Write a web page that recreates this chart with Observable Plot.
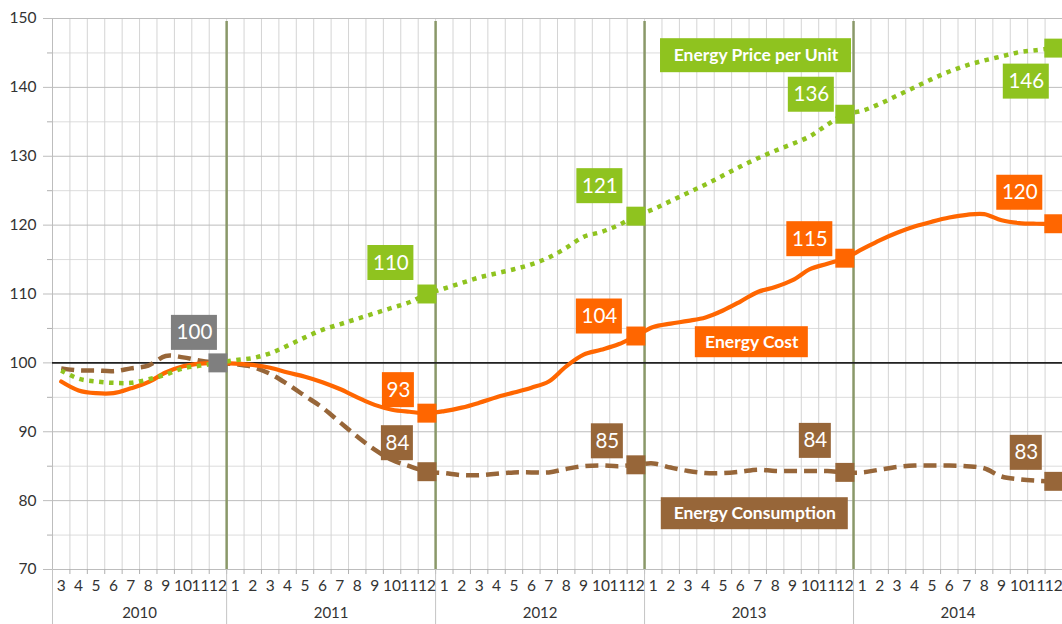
<!DOCTYPE html>
<html><head><meta charset="utf-8">
<script src="https://cdn.jsdelivr.net/npm/d3@7"></script>
<script src="https://cdn.jsdelivr.net/npm/@observablehq/plot@0.6"></script>
<style>html,body{margin:0;padding:0;background:#fff;overflow:hidden}</style>
</head><body><div id="chart"></div>
<script>
// ---- data ----
const years = ["2010", "2011", "2012", "2013", "2014"];
const monthLabels = [3,4,5,6,7,8,9,10,11,12,
  1,2,3,4,5,6,7,8,9,10,11,12,
  1,2,3,4,5,6,7,8,9,10,11,12,
  1,2,3,4,5,6,7,8,9,10,11,12,
  1,2,3,4,5,6,7,8,9,10,11,12];
const price = [98.9, 97.7, 97.3, 97.1, 97.1, 97.6, 98.3, 99.2, 99.6, 100,
  100.4, 100.7, 101.4, 102.5, 103.7, 104.8, 105.6, 106.4, 107.2, 108.0, 108.8, 110.0,
  110.8, 111.6, 112.4, 113.0, 113.6, 114.3, 115.3, 116.7, 118.3, 119.0, 120.0, 121.3,
  122.3, 123.5, 124.7, 125.9, 127.2, 128.5, 129.7, 130.8, 131.8, 132.9, 134.6, 136.1,
  136.6, 137.6, 138.8, 140.0, 141.2, 142.3, 143.2, 143.9, 144.5, 145.1, 145.4, 145.7];
const cost = [97.3, 96.0, 95.6, 95.6, 96.3, 97.2, 98.6, 99.5, 99.9, 100,
  99.9, 99.7, 99.3, 98.6, 98.0, 97.2, 96.2, 95.0, 93.9, 93.2, 92.9, 92.7,
  93.0, 93.5, 94.2, 95.0, 95.7, 96.4, 97.3, 99.5, 101.2, 101.9, 102.7, 103.9,
  105.2, 105.7, 106.1, 106.6, 107.6, 108.9, 110.3, 111.0, 112.0, 113.6, 114.4, 115.2,
  116.5, 117.8, 118.9, 119.8, 120.5, 121.1, 121.5, 121.6, 120.7, 120.3, 120.2, 120.2];
const consumption = [99.2, 98.9, 98.9, 98.8, 99.2, 99.6, 101.0, 100.8, 100.3, 100,
  99.8, 99.4, 98.4, 96.9, 95.2, 93.5, 91.4, 89.3, 87.4, 85.9, 85.0, 84.2,
  84.0, 83.7, 83.7, 83.9, 84.1, 84.1, 84.1, 84.6, 85.0, 85.1, 85.0, 85.2,
  85.4, 84.8, 84.3, 84.0, 84.0, 84.2, 84.5, 84.3, 84.3, 84.3, 84.3, 84.1,
  84.1, 84.5, 84.9, 85.1, 85.1, 85.1, 85.0, 84.7, 83.5, 83.1, 82.9, 82.8];
const seriesNames = ["Energy Price per Unit", "Energy Cost", "Energy Consumption"];
const labeledIdx = [21, 33, 45, 57];
const baseIdx = 9;
const yTicks = [70, 80, 90, 100, 110, 120, 130, 140, 150];
const yMinor = [75, 85, 95, 105, 115, 125, 135, 145];

// ---- styling / annotation layout (pixel offsets from markers) ----
const GREEN = "#8fc31f", ORANGE = "#ff6600", BROWN = "#976639", GRAY = "#7f7f7f", OLIVE = "#8a9869";
const FONT = "Lato, 'Open Sans', sans-serif";
const offsets = {
  price: [[-36, -31], [-36, -30], [-33.5, -19.5], [-27.5, 33.5]],
  cost: [[-28.5, -23], [-36.5, -19.5], [-35, -19], [-34, -31]],
  consumption: [[-29.5, -28.5], [-28.5, -23.5], [-29.5, -31.5], [-27.5, -28.5]]
};
const baseOffset = [-23.5, -30];
const nameBoxes = [
  {name: seriesNames[0], i: 39.9, v: 144.6, color: GREEN, w: 191, h: 34},
  {name: seriesNames[1], i: 39.66, v: 103.0, color: ORANGE, w: 113, h: 31},
  {name: seriesNames[2], i: 39.83, v: 78.1, color: BROWN, w: 187, h: 32}
];

// ---- derived ----
const n = monthLabels.length;
const idx = d3.range(n);
const boundaries = d3.range(-0.5, n, 1);
const yearStarts = idx.filter(i => i > 0 && monthLabels[i] === 1);
const yearBounds = yearStarts.map(i => i - 0.5);
const yearSpans = [0, ...yearStarts, n];
const yearCenters = years.map((y, k) => ({year: y, c: (yearSpans[k] + yearSpans[k + 1] - 1) / 2}));

const callouts = [];
const addSeries = (vals, color, offs) => labeledIdx.forEach((i, k) =>
  callouts.push({i, v: vals[i], text: String(Math.round(vals[i])), color, dx: offs[k][0], dy: offs[k][1]}));
addSeries(price, GREEN, offsets.price);
addSeries(cost, ORANGE, offsets.cost);
addSeries(consumption, BROWN, offsets.consumption);
callouts.push({i: baseIdx, v: cost[baseIdx], text: String(Math.round(cost[baseIdx])), color: GRAY, dx: baseOffset[0], dy: baseOffset[1]});

const marks = [
  Plot.ruleY(yMinor, {stroke: "#dcdcdc", strokeWidth: 1}),
  Plot.ruleX(boundaries, {y1: 150, y2: 70, stroke: "#d4d4d4", strokeWidth: 1}),
  Plot.ruleY(yMinor, {x1: -0.5, x2: -0.5, insetLeft: -5, stroke: "#b0b0b0"}),
  Plot.ruleY(yTicks, {insetLeft: -9, stroke: "#bdbdbd", strokeWidth: 1}),
  Plot.ruleX(boundaries, {y1: 70, y2: 70, insetBottom: -5, stroke: "#b0b0b0"}),
  Plot.ruleX([-0.5, ...yearBounds], {y1: 70, y2: 70, insetBottom: -56, stroke: "#c4c4c4"}),
  Plot.ruleX([-0.5], {y1: 150, y2: 70, stroke: "#bdbdbd"}),
  Plot.ruleX(yearBounds, {y1: 150, y2: 70, insetTop: 3, stroke: OLIVE, strokeWidth: 2.5}),
  Plot.ruleY([100], {stroke: "#222", strokeWidth: 1.6}),
  Plot.line(idx, {x: i => i, y: i => consumption[i], stroke: BROWN, strokeWidth: 4.5, strokeDasharray: "13,7", strokeLinecap: "butt", curve: "catmull-rom"}),
  Plot.line(idx, {x: i => i, y: i => cost[i], stroke: ORANGE, strokeWidth: 4.2, curve: "catmull-rom"}),
  Plot.line(idx, {x: i => i, y: i => price[i], stroke: GREEN, strokeWidth: 4.5, strokeDasharray: "4.5,5.5", strokeLinecap: "butt", curve: "catmull-rom"}),
  Plot.dot(labeledIdx, {x: i => i, y: i => consumption[i], symbol: "square", r: 10.7, fill: BROWN}),
  Plot.dot(labeledIdx, {x: i => i, y: i => cost[i], symbol: "square", r: 10.7, fill: ORANGE}),
  Plot.dot(labeledIdx, {x: i => i, y: i => price[i], symbol: "square", r: 10.7, fill: GREEN}),
  Plot.dot([baseIdx], {x: i => i, y: i => cost[i], symbol: "square", r: 10.7, fill: GRAY})
];

for (const c of callouts) {
  const w = c.text.length >= 3 ? 46 : 32, h = 35;
  marks.push(Plot.rect([c], {x1: d => d.i, x2: d => d.i, y1: d => d.v, y2: d => d.v,
    insetLeft: -w / 2, insetRight: -w / 2, insetTop: -h / 2, insetBottom: -h / 2,
    dx: c.dx, dy: c.dy, fill: c.color}));
  marks.push(Plot.text([c], {x: d => d.i, y: d => d.v, text: d => d.text, dx: c.dx, dy: c.dy,
    fill: "white", fontSize: 20.5, fontFamily: FONT}));
}
for (const b of nameBoxes) {
  marks.push(Plot.rect([b], {x1: d => d.i, x2: d => d.i, y1: d => d.v, y2: d => d.v,
    insetLeft: -b.w / 2, insetRight: -b.w / 2, insetTop: -b.h / 2, insetBottom: -b.h / 2, fill: b.color}));
  marks.push(Plot.text([b], {x: d => d.i, y: d => d.v, text: d => d.name,
    fill: "white", fontSize: 17.5, fontWeight: "bold", fontFamily: FONT}));
}
marks.push(
  Plot.text(yTicks, {x: -0.5, y: d => d, text: d => String(d), textAnchor: "end", dx: -16, fontSize: 15.5, fill: "#333"}),
  Plot.text(idx, {x: i => i, y: 70, text: i => String(monthLabels[i]), dy: 17, fontSize: 15.5, fill: "#333"}),
  Plot.text(yearCenters, {x: d => d.c, y: 70, text: d => d.year, dy: 44, fontSize: 15, fill: "#333"})
);

const chart = Plot.plot({
  width: 1062, height: 624,
  marginLeft: 52, marginRight: 0, marginTop: 18, marginBottom: 55,
  x: {domain: [-0.5, n - 0.5], axis: null},
  y: {domain: [70, 150], axis: null},
  style: {fontFamily: FONT, fontSize: "15px", background: "#fff", color: "#333", overflow: "visible"},
  marks
});
document.getElementById("chart").append(chart);
</script>
</body></html>
